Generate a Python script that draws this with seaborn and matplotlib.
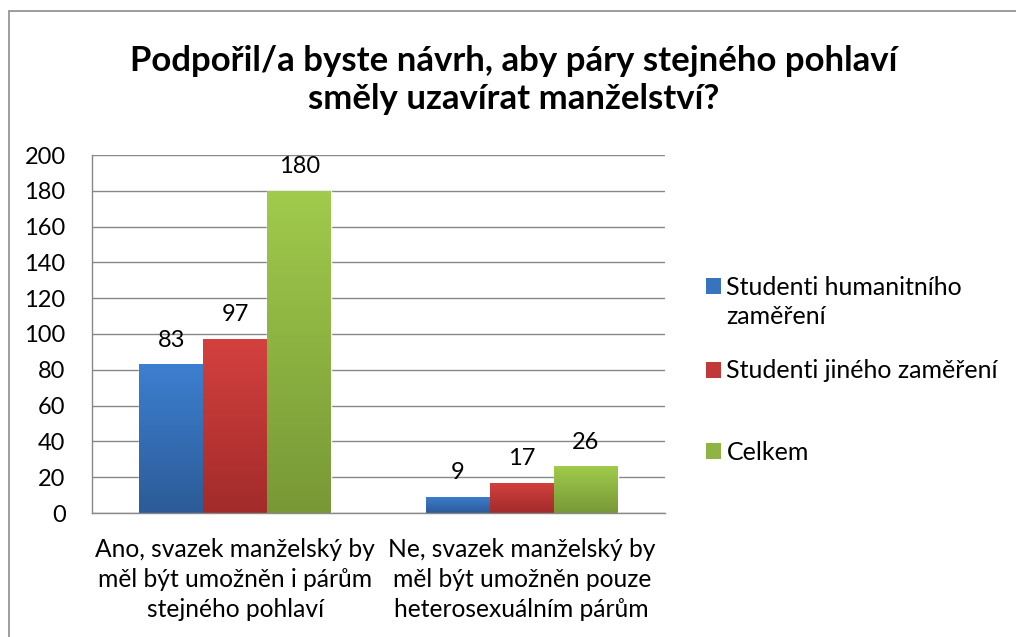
import numpy as np
import pandas as pd
import matplotlib
matplotlib.use("Agg")
import matplotlib.pyplot as plt
import matplotlib.patches as mpatches
from matplotlib.colors import LinearSegmentedColormap
import seaborn as sns

# ---- data ----
categories = ["Ano, svazek manželský by\nměl být umožněn i párům\nstejného pohlaví",
              "Ne, svazek manželský by\nměl být umožněn pouze\nheterosexuálním párům"]
series = ["Studenti humanitního zaměření", "Studenti jiného zaměření", "Celkem"]
values_hum = [83, 9]
values_other = [97, 17]
values_total = [180, 26]
title = "Podpořil/a byste návrh, aby páry stejného pohlaví\nsměly uzavírat manželství?"
yticks = [0, 20, 40, 60, 80, 100, 120, 140, 160, 180, 200]

top_colors = ["#3d7fd0", "#d3413f", "#a0cb4c"]
bot_colors = ["#2c5b97", "#a22b2a", "#789836"]
mid_colors = ["#3a73bd", "#c13a38", "#8fb443"]

df = pd.DataFrame({
    "cat": categories * 3,
    "series": [series[0]] * 2 + [series[1]] * 2 + [series[2]] * 2,
    "value": values_hum + values_other + values_total,
})

sns.set_theme(style="white")
plt.rcParams["font.family"] = ["Lato", "DejaVu Sans"]
plt.rcParams["text.color"] = "black"
plt.rcParams["xtick.labelcolor"] = "black"
plt.rcParams["ytick.labelcolor"] = "black"
grid_c = "#888888"
fs_tick = 17
fs_cat = 17.7
fs_leg = 18

fig = plt.figure(figsize=(10.16, 6.37), dpi=100)
ax = fig.add_axes([92 / 1016, 1 - 513 / 637, (665 - 92) / 1016, (513 - 155) / 637])

sns.barplot(data=df, x="cat", y="value", hue="series", order=categories,
            hue_order=series, palette=mid_colors, width=0.67, saturation=1,
            legend=False, ax=ax, zorder=3)

# gradient fill for bars
for i, cont in enumerate(ax.containers):
    cmap = LinearSegmentedColormap.from_list("g%d" % i, [bot_colors[i], top_colors[i]])
    grad = np.linspace(0, 1, 256).reshape(-1, 1)
    for bar in cont:
        x0, y0 = bar.get_x(), bar.get_y()
        w, h = bar.get_width(), bar.get_height()
        im = ax.imshow(grad, cmap=cmap, origin="lower", aspect="auto",
                       extent=[x0, x0 + w, y0, y0 + h], zorder=4)
        im.set_clip_path(bar)
    ax.bar_label(cont, padding=10, fontsize=fs_tick, color="black", zorder=6)

ax.set_xlim(-0.5, 1.5)
ax.set_ylim(0, 200)
ax.set_yticks(yticks)
ax.set_yticklabels([str(v) for v in yticks], fontsize=fs_tick, color="black")
ax.set_xticks([0, 1])
ax.set_xticklabels(categories, fontsize=fs_cat, linespacing=1.36, color="black")
ax.set_xticks([-0.5, 0.5, 1.5], minor=True)
ax.tick_params(axis="x", which="major", length=0, pad=18)
ax.tick_params(axis="x", which="minor", length=6, width=1, color=grid_c, direction="out")
ax.tick_params(axis="y", length=7, width=1, color=grid_c, direction="out", pad=12)
ax.yaxis.grid(True, color=grid_c, linewidth=1)
ax.set_axisbelow(True)
ax.set_xlabel("")
ax.set_ylabel("")
for s in ["top", "right"]:
    ax.spines[s].set_visible(False)
for s in ["left", "bottom"]:
    ax.spines[s].set_color(grid_c)
    ax.spines[s].set_linewidth(1)
    ax.spines[s].set_zorder(5)

# legends
def mk(c):
    return mpatches.Patch(facecolor=c, edgecolor="none")

invis = mpatches.Patch(facecolor="none", edgecolor="none")
common = dict(frameon=False, fontsize=fs_leg, handlelength=0.6, handleheight=0.6,
              handletextpad=0.22, borderpad=0, borderaxespad=0, loc="center left",
              labelcolor="black")
legA = fig.legend([mk(mid_colors[0]), invis], ["Studenti humanitního", "zaměření"],
                  bbox_to_anchor=(706 / 1016, 1 - 302 / 637), labelspacing=0.25, **common)
legB = fig.legend([mk(mid_colors[1])], ["Studenti jiného zaměření"],
                  bbox_to_anchor=(706 / 1016, 1 - 371 / 637), **common)
legC = fig.legend([mk(mid_colors[2])], ["Celkem"],
                  bbox_to_anchor=(706 / 1016, 1 - 452 / 637), **common)

fig.text(514 / 1016, 1 - 80 / 637, title, ha="center", va="center", color="black",
         fontsize=25, fontweight="bold", linespacing=1.25)

border = mpatches.Rectangle((9 / 1016, -0.1), 1.2, 1 - 11 / 637 + 0.1,
                            transform=fig.transFigure, fill=False,
                            edgecolor="#8c8c8c", linewidth=1.2)
fig.patches.append(border)

fig.savefig("out.png", dpi=100)
